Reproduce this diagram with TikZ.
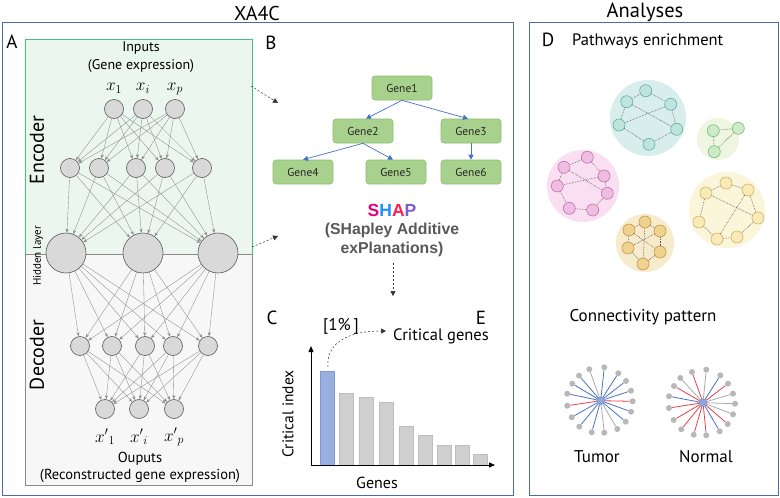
\documentclass[tikz,border=0pt]{standalone}
\usepackage{fontspec}
\setmainfont{PT Sans}
\newfontfamily\shapfont{Liberation Sans}
\usetikzlibrary{arrows.meta,calc}
\definecolor{boxblue}{HTML}{4A6DAA}
\definecolor{encfill}{HTML}{EAF6EE}
\definecolor{encgreen}{HTML}{45C07A}
\definecolor{decfill}{HTML}{F7F7F7}
\definecolor{decgray}{HTML}{8A8A8A}
\definecolor{neufill}{HTML}{D9D9D9}
\definecolor{neudraw}{HTML}{595959}
\definecolor{edgegray}{HTML}{8C8C8C}
\definecolor{genefill}{HTML}{A9D18E}
\definecolor{genedraw}{HTML}{8CBF6E}
\definecolor{treeblue}{HTML}{4472C4}
\definecolor{shapS}{HTML}{E6007E}
\definecolor{shapH}{HTML}{1E8FFF}
\definecolor{shapA}{HTML}{FF1F4F}
\definecolor{shapP}{HTML}{7B5CD6}
\definecolor{shapgray}{HTML}{595959}
\definecolor{barfill}{HTML}{CFCFCF}
\definecolor{bardraw}{HTML}{BDBDBD}
\definecolor{bluebar}{HTML}{9AAEE0}
\definecolor{bluebardraw}{HTML}{7F97D3}
\definecolor{tealblob}{HTML}{D7EEEC}
\definecolor{tealnode}{HTML}{BFE4DE}
\definecolor{tealdraw}{HTML}{62B0A2}
\definecolor{greenblob}{HTML}{EEF6E2}
\definecolor{greennode}{HTML}{CDEBC8}
\definecolor{greendraw}{HTML}{76BE74}
\definecolor{pinkblob}{HTML}{F9DFF1}
\definecolor{pinknode}{HTML}{F0BDE2}
\definecolor{pinkdraw}{HTML}{C070A8}
\definecolor{yelblob}{HTML}{FBF5DA}
\definecolor{yelnode}{HTML}{F8EBB8}
\definecolor{yeldraw}{HTML}{CDB466}
\definecolor{orblob}{HTML}{F6EBCB}
\definecolor{ornode}{HTML}{F0D28F}
\definecolor{ordraw}{HTML}{C4964A}
\definecolor{starblue}{HTML}{8FA6D8}
\definecolor{starbluedark}{HTML}{6B86C9}
\definecolor{stargray}{HTML}{B8B8B8}
\definecolor{lineblue}{HTML}{4A72C8}
\definecolor{linered}{HTML}{E8404A}
\definecolor{linegray}{HTML}{AAAAAA}
\tikzset{
 neuron/.style={circle, fill=neufill, draw=neudraw, line width=0.6pt, inner sep=0pt, minimum size=19pt},
 bigneuron/.style={neuron, minimum size=40pt},
 nnedge/.style={draw=edgegray, line width=0.35pt, -{Stealth[length=4pt,width=3pt]}},
 genebox/.style={rectangle, rounded corners=3pt, fill=genefill, draw=genedraw, line width=0.6pt, minimum width=60pt, minimum height=24pt, inner sep=0pt, font=\fontsize{11.5}{13}\selectfont, text=black!85},
 treearrow/.style={draw=treeblue, line width=0.7pt, -{Triangle[length=5pt,width=5pt]}},
 dasharrow/.style={draw=black!80, dash pattern=on 2pt off 2pt, line width=0.5pt, -{Triangle[length=5pt,width=5pt]}},
 pn/.style={circle, inner sep=0pt, minimum size=12pt, line width=0.6pt},
 pe/.style={draw=black!65, densely dotted, line width=0.6pt},
 sc/.style={circle, inner sep=0pt, minimum size=8pt, fill=starblue, draw=starbluedark, line width=0.5pt},
 so/.style={circle, inner sep=0pt, minimum size=6pt, fill=stargray},
 lb/.style={line width=0.8pt, draw=lineblue},
 lr/.style={line width=0.8pt, draw=linered},
 lg/.style={line width=0.8pt, draw=linegray},
 lbl/.style={font=\fontsize{19}{21}\selectfont, inner sep=0pt},
 txt/.style={inner sep=0pt, font=\fontsize{14}{16}\selectfont},
 mth/.style={inner sep=0pt, font=\fontsize{18}{20}\selectfont},
}
\begin{document}
\begin{tikzpicture}[x=1pt,y=-1pt]
\useasboundingbox (0,0) rectangle (780,498);
\fill[white] (0,0) rectangle (780,498);
% titles
\node[inner sep=0pt, font=\fontsize{20}{22}\selectfont] (t1) at (257,13) {XA4C};
\node[inner sep=0pt, font=\fontsize{20.5}{22}\selectfont] (t2) at (645,12) {Analyses};
% outer boxes
\draw[boxblue, line width=1pt] (2,22) rectangle (513,495);
\draw[boxblue, line width=1pt] (529,22) rectangle (778,495);
% encoder / decoder boxes
\filldraw[fill=decfill, draw=decgray, line width=0.8pt] (25,254) rectangle (252,485);
\filldraw[fill=encfill, draw=encgreen, line width=1pt] (25,39) rectangle (252,254);
\draw[decgray, line width=0.8pt] (25,254) -- (252,254);
% panel letters
\node[lbl] (la) at (12,42) {A};
\node[lbl] (lbB) at (271,43) {B};
\node[lbl] (lc) at (272,318) {C};
\node[lbl] (le) at (481,318) {E};
\node[lbl] (ld) at (548,40) {D};
% side labels
\node[rotate=90, font=\fontsize{20}{22}\selectfont, inner sep=0pt] (enc) at (37,150) {Encoder};
\node[rotate=90, font=\fontsize{20}{22}\selectfont, inner sep=0pt] (dec) at (37,355) {Decoder};
\node[rotate=90, font=\fontsize{11}{12}\selectfont, inner sep=0pt] (hid) at (38,256) {Hidden layer};
% input text
\node[txt] (inp) at (141,48) {Inputs};
\node[txt] (inp2) at (141,66) {(Gene expression)};
\node[mth] (xl1) at (114,88) {$x_1$};
\node[mth] (xl2) at (143,88) {$x_i$};
\node[mth] (xl3) at (175,89) {$x_p$};
% neurons
\foreach \x [count=\i] in {114,143,175} \node[neuron] (i\i) at (\x,109) {};
\foreach \x [count=\i] in {70,99,136,165,202} \node[neuron] (e\i) at (\x,168) {};
\foreach \x [count=\i] in {66,143,218} \node[bigneuron] (h\i) at (\x,253) {};
\foreach \x [count=\i] in {80,112,145,173,208} \node[neuron] (d\i) at (\x,346) {};
\foreach \x [count=\i] in {105,139,174} \node[neuron] (o\i) at (\x,409) {};
\foreach \a in {1,2,3} \foreach \b in {1,...,5} \draw[nnedge] (i\a) -- (e\b);
\foreach \a in {1,...,5} \foreach \b in {1,2,3} \draw[nnedge] (e\a) -- (h\b);
\foreach \a in {1,2,3} \foreach \b in {1,...,5} \draw[nnedge] (h\a) -- (d\b);
\foreach \a in {1,...,5} \foreach \b in {1,2,3} \draw[nnedge] (d\a) -- (o\b);
% output text
\node[mth] (yl1) at (105,437) {${x'}_{1}$};
\node[mth] (yl2) at (139,437) {${x'}_{i}$};
\node[mth] (yl3) at (174,437) {${x'}_{p}$};
\node[txt, font=\fontsize{14.5}{16}\selectfont] (outp) at (140,459) {Ouputs};
\node[txt, font=\fontsize{14.5}{16}\selectfont] (outp2) at (140,476) {(Reconstructed gene expression)};
% arrows A -> B
\coordinate (a1s) at (251,86);
\coordinate (a1e) at (278,103);
\coordinate (a2s) at (252,247);
\coordinate (a2e) at (278,236);
\draw[dasharrow] (a1s) -- (a1e);
\draw[dasharrow] (a2s) -- (a2e);
% tree
\node[genebox] (g1) at (402,88) {Gene1};
\node[genebox] (g2) at (363,131) {Gene2};
\node[genebox] (g3) at (471,131) {Gene3};
\node[genebox] (g4) at (303,172) {Gene4};
\node[genebox] (g5) at (396,172) {Gene5};
\node[genebox] (g6) at (471,172) {Gene6};
\draw[treearrow] (g1.south) -- ($(g2.north)+(3,0)$);
\draw[treearrow] (g1.south) -- ($(g3.north)+(-3,0)$);
\draw[treearrow] (g2.south) -- (g4.north);
\draw[treearrow] (g2.south) -- ($(g5.north)+(-3,0)$);
\draw[treearrow] (g3.south) -- (g6.north);
% SHAP
\node[inner sep=0pt, font=\shapfont\bfseries\fontsize{17.5}{18}\selectfont] (shap) at (392,210) {\textcolor{shapS}{S}\textcolor{shapH}{H}\textcolor{shapA}{A}\textcolor{shapP}{P}};
\node[inner sep=0pt, font=\shapfont\bfseries\fontsize{15.8}{17}\selectfont, text=shapgray] (shap2) at (392,230) {(SHapley Additive};
\node[inner sep=0pt, font=\shapfont\bfseries\fontsize{15.8}{17}\selectfont, text=shapgray] (shap3) at (392,249) {exPlanations)};
\coordinate (s1) at (393,263);
\coordinate (s2) at (393,296);
\draw[dasharrow] (s1) -- (s2);
% chart
\foreach \l/\t in {339/393, 359/397, 379/402, 399/426, 418/435, 437/445, 455/445, 473/454}
  \filldraw[fill=barfill, draw=bardraw, line width=0.5pt] (\l,\t) rectangle ({\l+14},465);
\filldraw[fill=bluebar, draw=bluebardraw, line width=0.6pt] (320,371) rectangle (334,465);
\coordinate (org) at (311,465);
\coordinate (yt) at (311,346);
\coordinate (xt) at (495,465);
\draw[line width=1pt, -{Triangle[length=6pt,width=5pt]}] (org) -- (yt);
\draw[line width=1pt, -{Triangle[length=6pt,width=5pt]}] (org) -- (xt);
\node[rotate=90, inner sep=0pt, font=\fontsize{15.5}{17}\selectfont] (ci) at (288,414) {Critical index};
\node[txt, font=\fontsize{16}{18}\selectfont] (genes) at (377,483) {Genes};
\node[inner sep=0pt, font=\fontsize{17}{18}\selectfont] (pct) at (341,326) {[1\%\,]};
\node[inner sep=0pt, font=\fontsize{16.5}{18}\selectfont] (crit) at (441,336) {Critical genes};
\coordinate (bt) at (328,367);
\coordinate (ctip) at (386,331);
\draw[dasharrow] (bt) .. controls (326,345) and (345,331) .. (ctip);
% panel D
\node[inner sep=0pt, font=\fontsize{16.5}{18}\selectfont, anchor=west] (pw) at (572,41) {Pathways enrichment};
% teal
\fill[tealblob] (648,118) circle (38);
\foreach \x/\y [count=\i] in {645.7/90.7, 626.7/101.7, 670.7/104.3, 619/125, 676.7/129.3, 649/144.3}
  \node[pn, fill=tealnode, draw=tealdraw] (tn\i) at (\x,\y) {};
\foreach \a/\b in {1/2,1/3,2/4,2/5,3/4,3/5,4/6,5/6} \draw[pe] (tn\a) -- (tn\b);
% green
\fill[greenblob] (718,139) circle (21);
\foreach \x/\y [count=\i] in {713.3/130.7, 738.3/128.3, 714.3/151.7}
  \node[pn, fill=greennode, draw=greendraw] (gn\i) at (\x,\y) {};
\foreach \a/\b in {1/2,1/3,2/3} \draw[pe] (gn\a) -- (gn\b);
% pink
\fill[pinkblob] (583,186) circle (36);
\foreach \x/\y [count=\i] in {587.3/157.3, 564/167.3, 604/176, 557.3/186, 607.3/193.3, 569.3/208.3, 592.7/210}
  \node[pn, fill=pinknode, draw=pinkdraw] (pk\i) at (\x,\y) {};
\foreach \a/\b in {1/2,1/3,2/4,2/5,3/4,3/5,5/7,4/6,6/7} \draw[pe] (pk\a) -- (pk\b);
% yellow
\fill[yelblob] (727,210) circle (38);
\foreach \x/\y [count=\i] in {726/183, 706/193, 748/190, 699/222, 758/218, 717/239, 737/237}
  \node[pn, fill=yelnode, draw=yeldraw] (yn\i) at (\x,\y) {};
\foreach \a/\b in {1/2,1/3,2/4,2/5,3/6,3/5,4/6,6/7,5/7} \draw[pe] (yn\a) -- (yn\b);
% orange
\fill[orblob] (645,243) circle (29);
\foreach \x/\y [count=\i] in {629/230, 645/222, 660/231, 628/248, 660/252, 643/264}
  \node[pn, fill=ornode, draw=ordraw] (on\i) at (\x,\y) {};
\foreach \a/\b in {1/2,2/3,1/4,1/5,2/6,3/5,4/6,5/6,3/4} \draw[pe] (on\a) -- (on\b);
% connectivity
\node[inner sep=0pt, font=\fontsize{17}{18}\selectfont] (cp) at (643,317) {Connectivity pattern};
\node[sc] (tc) at (600.7,400.7) {};
\foreach \x/\y/\c [count=\i] in {589.3/369.3/lg, 604.3/367.3/lb, 618.3/373.3/lb, 626/381/lb, 631/390.7/lb, 632.7/401.3/lr, 631/411.7/lb, 625.7/421.7/lb, 617.3/429/lg, 604.3/432.7/lg, 591.7/432.3/lb, 579.3/426.7/lb, 571.7/417.3/lb, 567.3/405.7/lr, 567.3/393.7/lb, 572.3/383.7/lb, 579/375.7/lb}
 { \node[so] (ta\i) at (\x,\y) {}; \draw[\c] (tc) -- (ta\i); }
\node[sc] (nc) at (703,402.7) {};
\foreach \x/\y/\c [count=\i] in {692/372/lr, 706.3/369.7/lg, 720.3/375.3/lb, 728/383.7/lr, 733/393.7/lg, 735/403.7/lg, 733/414.3/lg, 727.7/424/lr, 719.7/431.3/lb, 706.3/435.3/lr, 693.7/434.7/lr, 681.3/429.3/lr, 673.7/420/lr, 669/408/lr, 669/396.3/lb, 674/386/lr, 680.3/378/lg}
 { \node[so] (na\i) at (\x,\y) {}; \draw[\c] (nc) -- (na\i); }
\node[inner sep=0pt, font=\fontsize{17}{18}\selectfont] (tum) at (597,457) {Tumor};
\node[inner sep=0pt, font=\fontsize{17}{18}\selectfont] (nor) at (706,457) {Normal};
\end{tikzpicture}
\end{document}
